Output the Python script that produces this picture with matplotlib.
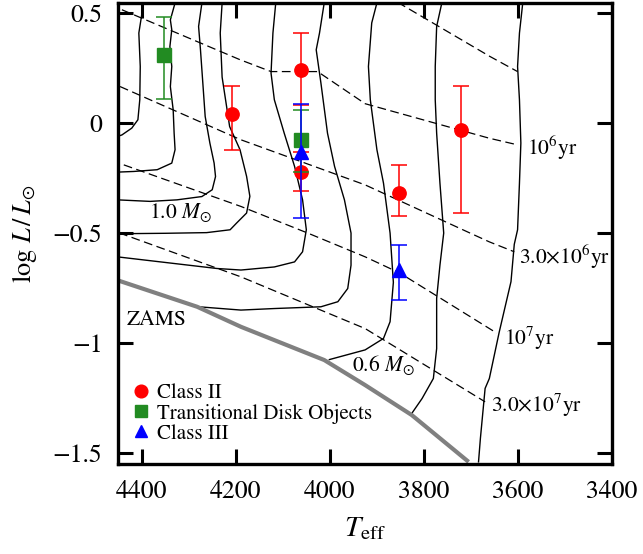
import matplotlib
matplotlib.use('Agg')
import matplotlib.pyplot as plt

plt.rcParams['font.family'] = ['STIXGeneral', 'DejaVu Serif']
plt.rcParams['mathtext.fontset'] = 'stix'

# ---------------- observations ----------------
c2_teff = [4208, 4061, 4061, 3853, 3721]
c2_logl = [0.043, 0.240, -0.220, -0.316, -0.030]
c2_err_lo = [0.163, 0.156, 0.090, 0.104, 0.377]
c2_err_hi = [0.127, 0.170, 0.090, 0.127, 0.200]

td_teff = [4353, 4061]
td_logl = [0.311, -0.075]
td_err_lo = [0.201, 0.145]
td_err_hi = [0.170, 0.136]

c3_teff = [4061, 3853]
c3_logl = [-0.130, -0.666]
c3_err_lo = [0.300, 0.136]
c3_err_hi = [0.219, 0.114]

# ---------------- evolutionary tracks ----------------
track1_teff = [4396, 4406, 4403, 4404, 4408, 4421, 4442, 4452]
track1_logl = [0.546, 0.41, 0.258, 0.107, 0.016, -0.022, -0.053, -0.06]

track2_teff = [4329, 4339, 4336, 4340, 4336, 4339, 4333, 4331, 4329, 4336, 4367, 4417, 4452]
track2_logl = [0.547, 0.47, 0.425, 0.349, 0.258, 0.167, 0.061, -0.045, -0.12, -0.181, -0.211, -0.219, -0.222]

track3_teff = [4272, 4279, 4275, 4270, 4265, 4255, 4246, 4243, 4250, 4272, 4325, 4382, 4452]
track3_logl = [0.546, 0.44, 0.334, 0.183, 0.031, -0.09, -0.181, -0.242, -0.302, -0.333, -0.348, -0.355, -0.348]

track4_teff = [4229, 4233, 4229, 4213, 4191, 4177, 4170, 4177, 4198, 4212, 4262, 4350, 4452]
track4_logl = [0.547, 0.41, 0.21, -0.015, -0.12, -0.241, -0.332, -0.408, -0.453, -0.484, -0.497, -0.5, -0.502]

track5_teff = [4115, 4121, 4125, 4118, 4097, 4075, 4058, 4050, 4058, 4075, 4118, 4189, 4240, 4452]
track5_logl = [0.547, 0.41, 0.228, 0.107, -0.045, -0.196, -0.348, -0.484, -0.584, -0.63, -0.653, -0.667, -0.66, -0.607]

track6_teff = [4012, 4022, 4029, 4019, 4005, 3990, 3969, 3955, 3955, 3962, 3983, 4019, 4118, 4189, 4279]
track6_logl = [0.547, 0.41, 0.334, 0.183, -0.045, -0.196, -0.348, -0.499, -0.645, -0.751, -0.811, -0.834, -0.842, -0.849, -0.834]

track7_teff = [3900, 3911, 3918, 3914, 3900, 3886, 3872, 3865, 3872, 3886, 3925, 4001]
track7_logl = [0.547, 0.456, 0.258, 0.107, -0.12, -0.272, -0.499, -0.723, -0.902, -0.978, -1.03, -1.074]

track8_teff = [3762, 3773, 3776, 3776, 3773, 3766, 3758, 3766, 3773, 3773, 3780, 3804, 3826]
track8_logl = [0.547, 0.44, 0.258, 0.107, -0.045, -0.272, -0.499, -0.645, -0.796, -1.024, -1.16, -1.251, -1.319]

track9_teff = [3590, 3597, 3601, 3597, 3594, 3597, 3601, 3608, 3615, 3640, 3661, 3670, 3680, 3684]
track9_logl = [0.547, 0.41, 0.258, 0.107, -0.09, -0.272, -0.484, -0.55, -0.72, -0.949, -1.16, -1.205, -1.432, -1.539]

# ---------------- ZAMS ----------------
zams_teff = [4452, 4282, 4189, 4012, 3925, 3826, 3705]
zams_logl = [-0.713, -0.834, -0.925, -1.076, -1.19, -1.326, -1.539]

# ---------------- isochrones ----------------
iso0_teff = [3856, 3660, 3601]
iso0_logl = [0.55, 0.304, 0.235]

iso1_teff = [4442, 4191, 4125, 4026, 3925, 3661, 3601]
iso1_logl = [0.516, 0.289, 0.235, 0.235, 0.089, -0.068, -0.098]

iso2_teff = [4446, 4189, 3925, 3702, 3661, 3608]
iso2_logl = [0.167, -0.075, -0.28, -0.499, -0.539, -0.584]

iso3_teff = [4438, 4189, 4047, 3925, 3851, 3645]
iso3_logl = [-0.189, -0.378, -0.499, -0.607, -0.681, -0.954]

iso4_teff = [4448, 4189, 3925, 3670]
iso4_logl = [-0.498, -0.698, -0.933, -1.266]

xticks = [4400, 4200, 4000, 3800, 3600, 3400]
yticks = [-1.5, -1.0, -0.5, 0.0, 0.5]
ytick_labels = ['\u22121.5', '\u22121', '\u22120.5', '0', '0.5']

fig = plt.figure(figsize=(6.43, 5.54), dpi=100)
ax = fig.add_axes([0.1830, 0.1619, 0.7690, 0.8332])

trk_kw = dict(color='black', lw=1.0, zorder=1)
for tx, ty in [(track1_teff, track1_logl), (track2_teff, track2_logl),
               (track3_teff, track3_logl), (track4_teff, track4_logl),
               (track5_teff, track5_logl), (track6_teff, track6_logl),
               (track7_teff, track7_logl), (track8_teff, track8_logl),
               (track9_teff, track9_logl)]:
    ax.plot(tx, ty, **trk_kw)

iso_kw = dict(color='black', lw=0.9, dashes=(7, 3.6), zorder=1)
for tx, ty in [(iso0_teff, iso0_logl), (iso1_teff, iso1_logl),
               (iso2_teff, iso2_logl), (iso3_teff, iso3_logl),
               (iso4_teff, iso4_logl)]:
    ax.plot(tx, ty, **iso_kw)

ax.plot(zams_teff, zams_logl, color='#808080', lw=3.0, zorder=1, solid_capstyle='butt')

eb_kw = dict(fmt='none', capsize=6, elinewidth=1.1, capthick=1.1)
ms = 9.6
ax.errorbar(c2_teff, c2_logl, yerr=[c2_err_lo, c2_err_hi], ecolor='#ff0000', zorder=3, **eb_kw)
h1, = ax.plot(c2_teff, c2_logl, 'o', color='#ff0000', ms=ms, zorder=3, label='Class II')
ax.errorbar(td_teff, td_logl, yerr=[td_err_lo, td_err_hi], ecolor='#228b22', zorder=4, **eb_kw)
h2, = ax.plot(td_teff, td_logl, 's', color='#228b22', ms=ms, zorder=4, label='Transitional Disk Objects')
ax.errorbar(c3_teff, c3_logl, yerr=[c3_err_lo, c3_err_hi], ecolor='#0000ff', zorder=5, **eb_kw)
h3, = ax.plot(c3_teff, c3_logl, '^', color='#0000ff', ms=ms, zorder=5, label='Class III')

fs_ann = 15.5
ax.text(4431, -0.917, 'ZAMS', fontsize=fs_ann, ha='left', va='baseline')
ax.text(4385, -0.431, r'1.0 $M_{\odot}$', fontsize=fs_ann, ha='left', va='baseline')
ax.text(3953, -1.128, r'0.6 $M_{\odot}$', fontsize=fs_ann, ha='left', va='baseline')
ax.text(3580, -0.143, r'$10^{6}$yr', fontsize=fs_ann, ha='left', va='baseline')
ax.text(3597, -0.638, r'$3.0{\times}10^{6}$yr', fontsize=fs_ann, ha='left', va='baseline')
ax.text(3629, -1.008, r'$10^{7}$yr', fontsize=fs_ann, ha='left', va='baseline')
ax.text(3658, -1.311, r'$3.0{\times}10^{7}$yr', fontsize=fs_ann, ha='left', va='baseline')

ax.set_xlim(4451, 3400)
ax.set_ylim(-1.55, 0.548)
ax.set_xticks(xticks)
ax.set_xticklabels([str(t) for t in xticks])
ax.set_yticks(yticks)
ax.set_yticklabels(ytick_labels)
ax.tick_params(which='both', direction='in', top=True, right=True,
               length=11, width=2.2, labelsize=18.5, pad=11)
for sp in ax.spines.values():
    sp.set_linewidth(2.4)

ax.set_xlabel(r'$T_{\rm eff}$', fontsize=21, labelpad=8)
ax.set_ylabel(r'$\log\,L\,/\,L_{\odot}$', fontsize=19, labelpad=10)

leg = ax.legend(handles=[h1, h2, h3], loc='lower left', bbox_to_anchor=(0.027, 0.045),
                frameon=False, fontsize=15, handlelength=1.0, handletextpad=0.25,
                labelspacing=0.0, borderpad=0, borderaxespad=0, markerscale=0.95)

fig.savefig('out.png', dpi=100)
